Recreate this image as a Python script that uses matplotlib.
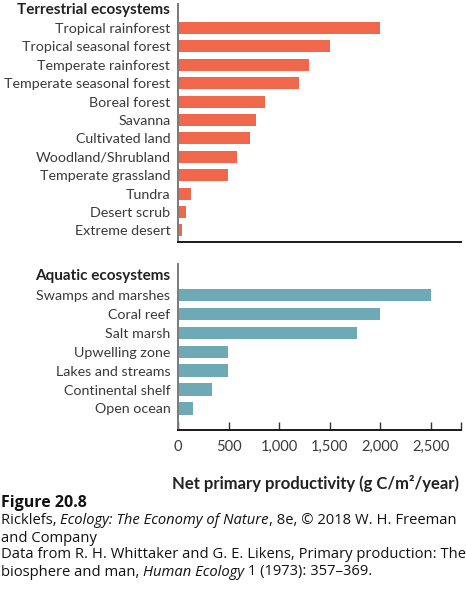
import matplotlib
matplotlib.use("Agg")
import matplotlib.pyplot as plt
import matplotlib.transforms as mtransforms

terr_labels = ["Tropical rainforest", "Tropical seasonal forest", "Temperate rainforest",
               "Temperate seasonal forest", "Boreal forest", "Savanna", "Cultivated land",
               "Woodland/Shrubland", "Temperate grassland", "Tundra", "Desert scrub",
               "Extreme desert"]
terr_values = [2000, 1500, 1300, 1200, 860, 770, 715, 580, 490, 130, 75, 40]

aq_labels = ["Swamps and marshes", "Coral reef", "Salt marsh", "Upwelling zone",
             "Lakes and streams", "Continental shelf", "Open ocean"]
aq_values = [2500, 2000, 1770, 495, 495, 340, 145]

xticks = [0, 500, 1000, 1500, 2000, 2500, 2800]
xticklabels = ["0", "500", "1,000", "1,500", "2,000", "2,500", ""]

W, H = 466, 597
fig = plt.figure(figsize=(W / 100, H / 100), dpi=100)
FONT = "Lato"
TXT = "#3a3a3a"
ORANGE = "#F0674B"
TEAL = "#6EAAB6"

def px_axes(left, top, right, bottom):
    return fig.add_axes([left / W, 1 - bottom / H, (right - left) / W, (bottom - top) / H])

def panel(ax, labels, values, color, title, ylim):
    ypos = list(range(len(labels)))
    ax.barh(ypos, values, height=0.65, color=color)
    ax.set_ylim(*ylim)
    ax.set_xlim(0, 2800)
    ax.set_yticks(ypos)
    ax.set_yticklabels(labels, fontsize=10.3, family=FONT, color=TXT)
    ax.tick_params(axis="y", length=0, pad=5.5)
    for s in ("top", "right"):
        ax.spines[s].set_visible(False)
    ax.spines["left"].set_color("#7a7a7a")
    ax.spines["left"].set_linewidth(1.4)
    ax.spines["bottom"].set_color("#1a1a1a")
    ax.spines["bottom"].set_linewidth(1.4)
    trans = mtransforms.blended_transform_factory(ax.transAxes, ax.transData)
    offset = mtransforms.ScaledTranslation(-8 / 100, 0, fig.dpi_scale_trans)
    ax.text(0, -1, title, transform=trans + offset, ha="right", va="center",
            fontsize=11, fontweight="bold", family=FONT, color="#222222")

ax1 = px_axes(178, 4, 461, 242)
panel(ax1, terr_labels, terr_values, ORANGE, "Terrestrial ecosystems", (11.63, -1.3))
ax1.set_xticks([])

ax2 = px_axes(178, 264, 461, 430)
panel(ax2, aq_labels, aq_values, TEAL, "Aquatic ecosystems", (7.14, -1.64))
ax2.set_xticks(xticks)
ax2.set_xticklabels(xticklabels, fontsize=10.5, family=FONT, color=TXT)
ax2.tick_params(axis="x", direction="in", length=5.5, width=1.0, color="#333333", pad=7)

fig.text(316 / W, 1 - 483 / H, "Net primary productivity (g C/m²/year)",
         ha="center", va="center", fontsize=12, fontweight="bold", family=FONT, color="#222222")

CAP = "Open Sans"
fig.text(1 / W, 1 - 503 / H, "Figure 20.8", ha="left", va="center",
         fontsize=11.5, fontweight="bold", family=CAP, color="#111111")

lines = [
    [("Ricklefs, ", "normal"), ("Ecology: The Economy of Nature", "italic"),
     (", 8e, © 2018 W. H. Freeman", "normal")],
    [("and Company", "normal")],
    [("Data from R. H. Whittaker and G. E. Likens, Primary production: The", "normal")],
    [("biosphere and man, ", "normal"), ("Human Ecology", "italic"),
     (" 1 (1973): 357–369.", "normal")],
]
ys = [521, 538, 555, 572]
renderer = fig.canvas.get_renderer()
for segs, y in zip(lines, ys):
    x = 1.0
    for txt, style in segs:
        t = fig.text(x / W, 1 - y / H, txt, ha="left", va="center", fontsize=10.6,
                     family=CAP, style=style, color="#111111")
        bb = t.get_window_extent(renderer=renderer)
        x += bb.width

fig.savefig("out.png", dpi=100)
